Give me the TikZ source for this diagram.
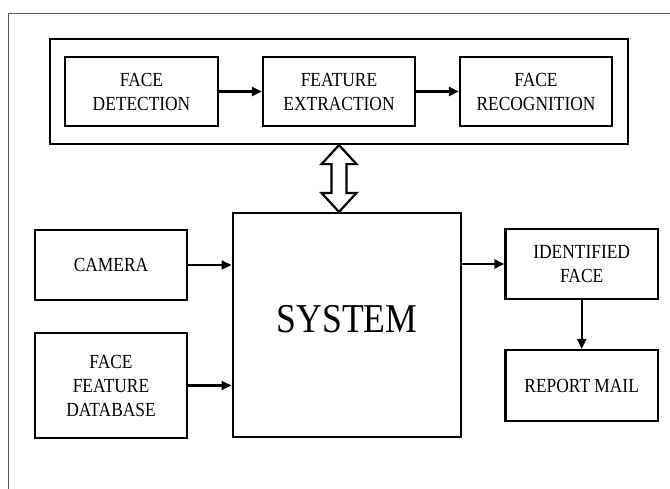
\documentclass[tikz,border=0pt]{standalone}
\usepackage{fontspec}
\setmainfont[FakeStretch=0.87]{Liberation Serif}
\usetikzlibrary{arrows.meta,calc}
\begin{document}
\begin{tikzpicture}[x=1pt,y=-1pt,
  blk/.style={draw,line width=2.2pt,rectangle,inner sep=0pt,align=center,
    font=\fontsize{20}{24}\selectfont},
  conn/.style={line width=2.2pt,-{Triangle[length=10pt,width=9pt]}}]
\useasboundingbox (0,0) rectangle (670,488);
\fill[white] (0,0) rectangle (670,488);
% outer frame
\draw[line width=1pt,black!65] (8,490) -- (8,13) -- (672,13);
% top container
\node[blk,minimum width=578pt,minimum height=105pt] (cont) at (339,91.5) {};
\node[blk,minimum width=153pt,minimum height=69pt] (fd) at (141.5,91.5) {FACE\\DETECTION};
\node[blk,minimum width=152pt,minimum height=69pt] (fe) at (339,91.5) {FEATURE\\EXTRACTION};
\node[blk,minimum width=152pt,minimum height=69pt] (fr) at (536,91.5) {FACE\\RECOGNITION};
\draw[conn] (fd.east) -- (fe.west);
\draw[conn] (fe.east) -- (fr.west);
% system
\node[blk,minimum width=228pt,minimum height=224pt] (sys) at (346.6,325) {};
\node[font=\fontsize{41}{48}\selectfont,inner sep=0pt,anchor=base] (systxt) at (347,332.5) {SYSTEM};
% left inputs
\node[blk,minimum width=152pt,minimum height=70pt] (cam) at (111,265) {CAMERA};
\node[blk,minimum width=152pt,minimum height=105pt] (db) at (111,385.5) {FACE\\FEATURE\\DATABASE};
\draw[conn] (cam.east) -- (cam.east -| sys.west);
\draw[conn] (db.east) -- (db.east -| sys.west);
% right outputs
\node[blk,minimum width=152.5pt,minimum height=70pt] (idf) at (581.7,264) {IDENTIFIED\\FACE};
\node[blk,minimum width=152.5pt,minimum height=71pt] (mail) at (581.7,385.5) {REPORT MAIL};
\draw[conn] (sys.east |- idf.west) -- (idf.west);
\draw[conn] (idf.south) -- (mail.north);
% double arrow
\coordinate (dtop) at (fe |- cont.south);
\coordinate (dbot) at (fe |- sys.north);
\draw[line width=2.2pt,line join=miter,fill=white]
  (dtop) -- ($(dtop)+(17.5,19)$) -- ($(dtop)+(7.5,19)$) -- ($(dbot)+(7.5,-19)$)
  -- ($(dbot)+(17.5,-19)$) -- (dbot) -- ($(dbot)+(-17.5,-19)$) -- ($(dbot)+(-7.5,-19)$)
  -- ($(dtop)+(-7.5,19)$) -- ($(dtop)+(-17.5,19)$) -- cycle;
\end{tikzpicture}
\end{document}
